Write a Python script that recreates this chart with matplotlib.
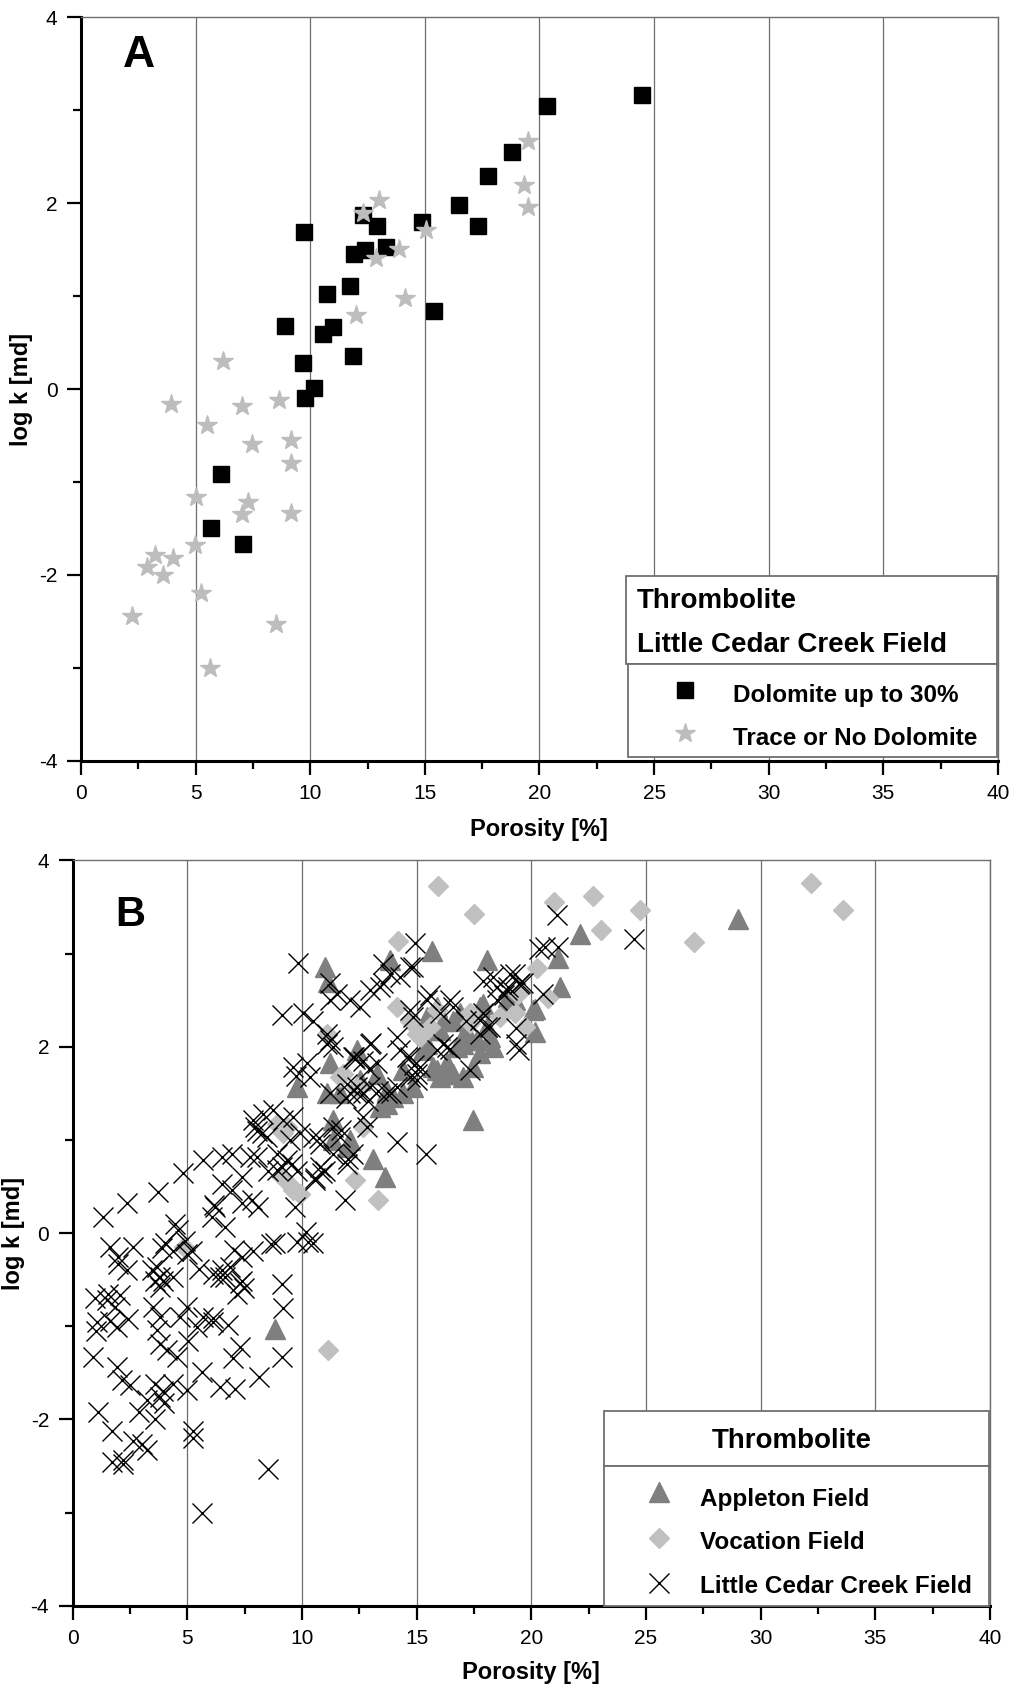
import matplotlib.pyplot as plt
from matplotlib.patches import Rectangle
from matplotlib.ticker import MultipleLocator

plt.rcParams['font.family'] = ['Liberation Sans', 'DejaVu Sans']
plt.rcParams['axes.unicode_minus'] = False

# --- panel A: Little Cedar Creek thrombolite ---
dolo_por = [24.48, 20.34, 18.80, 17.75, 16.47, 17.33, 14.87, 15.39, 9.74, 12.31,
            12.92, 13.30, 11.90, 12.39, 11.72, 10.73, 8.91, 10.99, 10.57, 11.86,
            9.70, 10.16, 9.78, 6.12, 5.65, 7.08]
dolo_logk = [3.16, 3.05, 2.55, 2.29, 1.98, 1.75, 1.80, 0.845, 1.69, 1.87,
             1.76, 1.53, 1.45, 1.50, 1.11, 1.02, 0.68, 0.67, 0.595, 0.358,
             0.28, 0.01, -0.10, -0.91, -1.49, -1.67]

trace_por = [19.48, 19.32, 19.48, 13.00, 12.28, 15.03, 13.88, 12.87, 14.12, 11.99,
             6.18, 3.91, 7.04, 8.63, 5.51, 7.47, 9.14, 9.16, 5.02, 7.28,
             7.01, 9.14, 4.99, 3.23, 4.00, 2.88, 3.59, 5.25, 2.21, 8.52, 5.64]
trace_logk = [2.67, 2.20, 1.96, 2.04, 1.89, 1.71, 1.505, 1.415, 0.98, 0.80,
              0.30, -0.16, -0.18, -0.12, -0.39, -0.59, -0.55, -0.80, -1.16, -1.22,
              -1.34, -1.33, -1.68, -1.79, -1.82, -1.92, -2.00, -2.20, -2.44, -2.53, -3.00]

# --- panel B: thrombolite from three fields ---
appleton_por = [29.01, 22.11, 21.14, 21.24, 20.15, 20.15, 19.28, 18.98, 15.65, 13.83,
                18.05, 20.08, 15.87, 16.59, 17.90, 16.01, 17.17, 17.61, 18.19, 18.92,
                15.43, 11.00, 11.14, 17.46, 13.10, 13.61, 9.76, 11.22, 11.07, 11.94,
                11.36, 12.38, 13.69, 14.85, 16.01, 16.59, 17.03, 17.76, 17.17, 16.88,
                16.16, 15.72, 18.05, 18.34, 17.76, 13.98, 11.65, 11.36, 8.82, 15.72,
                16.30, 17.46, 15.29, 16.74, 14.41, 12.52, 13.25, 13.69, 14.41, 15.87,
                16.45, 12.09, 13.40, 15.43, 17.03]
appleton_logk = [3.37, 3.21, 2.95, 2.64, 2.41, 2.16, 2.50, 2.53, 3.03, 2.93,
                 2.93, 2.39, 2.43, 2.28, 2.46, 2.18, 2.18, 2.07, 2.10, 2.46,
                 2.03, 2.86, 2.69, 1.21, 0.80, 0.60, 1.57, 1.82, 1.50, 0.92,
                 1.21, 1.96, 1.39, 1.57, 1.67, 1.71, 1.67, 1.93, 2.07, 2.36,
                 2.28, 2.18, 2.21, 2.00, 2.43, 1.46, 1.50, 1.00, -1.03, 1.78,
                 1.82, 1.78, 1.96, 2.00, 1.75, 1.64, 1.71, 1.53, 1.50, 1.75,
                 1.71, 1.00, 1.35, 2.32, 2.03]

vocation_por = [20.99, 22.69, 24.73, 23.03, 27.10, 32.21, 33.61, 20.23, 19.43, 20.73,
                19.28, 19.72, 15.94, 17.51, 14.19, 14.12, 17.32, 18.63, 15.14, 15.58,
                11.65, 11.07, 12.38, 12.67, 8.89, 9.18, 9.62, 9.91, 12.31, 13.32,
                15.00, 14.70, 17.32, 4.85, 9.55, 9.11, 11.14, 11.80, 15.87, 9.33]
vocation_logk = [3.55, 3.62, 3.47, 3.25, 3.12, 3.76, 3.47, 2.84, 2.57, 2.52,
                 2.36, 2.21, 3.72, 3.42, 3.14, 2.43, 2.25, 2.32, 2.10, 2.21,
                 1.67, 2.14, 1.57, 1.14, 1.17, 1.07, 0.46, 0.42, 0.57, 0.35,
                 2.14, 2.28, 2.36, -0.15, 0.49, 0.60, -1.26, 1.71, 2.39, 1.14]

# Little Cedar Creek in B = the panel A samples plus these
lcc_extra_por = [8.13, 6.42, 6.78, 4.39, 3.95, 3.81, 3.59, 2.64, 3.23, 3.01,
                 5.26, 1.70, 2.20, 1.09, 1.70, 0.90, 1.92, 2.14, 2.50, 1.05,
                 1.63, 1.92, 2.42, 1.48, 1.84, 2.06, 3.51, 3.81, 3.66, 3.81,
                 4.10, 4.53, 4.68, 4.97, 5.41, 5.69, 6.13, 4.39, 3.95, 3.66,
                 2.35, 1.99, 1.63, 2.64, 4.39, 4.97, 6.13, 6.42, 6.86, 7.29,
                 7.15, 7.87, 10.49, 0.95, 1.00,
                 1.33, 2.35, 3.73, 4.82, 5.69, 6.49, 6.93, 7.73, 7.95, 8.24,
                 6.49, 6.93, 7.37, 7.80, 8.09, 6.20, 6.06, 6.64, 7.37, 8.53,
                 9.11, 9.55, 10.85, 10.56, 10.27, 8.82, 7.37, 6.49, 6.64, 7.37,
                 4.90, 4.60, 4.46, 4.02, 5.19, 3.81, 3.81, 1.99, 1.55, 3.44, 3.59,
                 8.02, 7.87, 8.31, 8.74, 8.02, 8.46, 9.18, 9.62, 9.47, 8.89,
                 9.33, 9.76, 9.91, 10.49, 10.78, 11.36, 11.65, 11.36, 10.78, 11.94,
                 12.23, 12.82, 12.67, 9.62, 10.20, 10.34, 10.49, 10.05, 9.11, 9.81,
                 11.22, 11.36, 11.07, 11.22, 11.51, 11.22, 12.09, 12.52, 12.96, 13.40,
                 13.54, 13.83, 14.27, 14.85, 14.92, 12.23, 12.67, 13.25, 11.94, 11.22,
                 12.09, 12.96, 13.69, 14.12, 14.27, 14.56, 15.14, 14.70, 15.00, 14.85,
                 15.43, 16.01, 16.30, 16.59, 17.17, 17.90, 18.19, 18.48,
                 21.10, 20.59, 21.17, 19.28, 19.50, 18.99, 20.51,
                 14.70, 13.54, 15.58, 16.45, 18.33, 19.06, 19.64, 18.48, 18.92, 17.90,
                 18.05, 17.76, 19.35, 16.16, 12.96, 14.12,
                 11.07, 12.38, 12.67, 14.70, 14.70, 15.87]
lcc_extra_logk = [-1.55, -1.65, -0.99, -1.62, -1.69, -1.76, -1.62, -2.23, -2.33, -2.26,
                  -2.12, -2.46, -2.48, -1.92, -2.12, -1.33, -1.44, -1.58, -1.63, -0.96,
                  -0.94, -1.01, -0.92, -0.72, -0.79, -0.67, -0.79, -0.90, -1.04, -1.19,
                  -1.26, -1.33, -0.90, -0.79, -1.01, -0.90, -0.96, -0.47, -0.51, -0.36,
                  -0.40, -0.33, -0.15, -0.15, -0.19, -0.22, -0.44, -0.47, -0.36, -0.54,
                  -0.65, -0.19, -0.11, -0.70, -1.05,
                  0.17, 0.32, 0.44, 0.64, 0.78, 0.82, 0.85, 0.82, 1.14, 1.07,
                  0.53, 0.46, 0.32, 0.35, 0.28, 0.28, 0.17, 0.06, 0.60, 0.67,
                  0.71, 0.74, 0.64, 0.57, -0.10, -0.11, -0.26, -0.40, -0.47, -0.51,
                  -0.08, 0.03, 0.10, -0.11, -0.19, -0.47, -0.58, -0.26, -0.65, -0.40, -0.51,
                  0.82, 1.21, 1.28, 1.32, 1.10, 1.03, 1.21, 1.25, 1.00, 0.85,
                  0.78, 0.67, 1.07, 1.03, 0.96, 1.14, 1.03, 0.85, 0.71, 0.74,
                  0.85, 1.14, 1.25, 1.78, 1.82, 1.67, 2.28, 2.36, 2.34, 2.90,
                  2.07, 2.00, 2.14, 2.68, 2.57, 2.50, 2.50, 2.43, 2.61, 2.64,
                  2.89, 2.78, 2.75, 2.86, 3.11, 1.89, 1.85, 1.82, 1.60, 1.50,
                  1.50, 1.57, 1.50, 1.57, 1.96, 1.89, 1.78, 1.67, 1.64, 2.32,
                  2.50, 2.36, 2.00, 2.43, 2.28, 2.71, 2.21, 2.50,
                  3.41, 3.07, 3.07, 2.78, 2.68, 2.64, 2.57,
                  2.86, 2.68, 2.55, 2.50, 2.75, 2.78, 2.68, 2.64, 2.61, 2.36,
                  2.21, 2.14, 2.03, 2.03, 2.03, 2.10,
                  2.03, 1.57, 1.50, 1.89, 2.39, 1.96]

lcc_por = dolo_por + trace_por + lcc_extra_por
lcc_logk = dolo_logk + trace_logk + lcc_extra_logk

GRID = "#6e6e6e"
TRI_C = "#7f7f7f"
LIGHT_C = "#c0c0c0"


def style_axes(ax):
    ax.set_xlim(0, 40)
    ax.set_ylim(-4, 4)
    ax.xaxis.set_major_locator(MultipleLocator(5))
    ax.xaxis.set_minor_locator(MultipleLocator(2.5))
    ax.yaxis.set_major_locator(MultipleLocator(2))
    ax.yaxis.set_minor_locator(MultipleLocator(1))
    for side in ("left", "bottom"):
        ax.spines[side].set_linewidth(2.2)
        ax.spines[side].set_color("black")
    for side in ("top", "right"):
        ax.spines[side].set_linewidth(1.0)
        ax.spines[side].set_color(GRID)
    ax.tick_params(which="major", direction="out", length=10, width=1.6,
                   labelsize=15, pad=7, top=False, right=False)
    ax.tick_params(which="minor", direction="out", length=5.5, width=1.6,
                   top=False, right=False)
    ax.grid(axis="x", color=GRID, lw=0.9, zorder=0)
    ax.set_axisbelow(True)
    ax.set_xlabel("Porosity [%]", fontsize=17, fontweight="bold")
    ax.set_ylabel("log k [md]", fontsize=17, fontweight="bold")


def box(ax, x0, y0, x1, y1):
    ax.add_patch(Rectangle((x0, y0), x1 - x0, y1 - y0, transform=ax.transAxes,
                           facecolor="white", edgecolor=GRID, lw=1.3,
                           zorder=5, clip_on=False))


def key(ax, x, y, **kw):
    ax.plot([x], [y], ls="none", transform=ax.transAxes, clip_on=False,
            zorder=6, **kw)


fig = plt.figure(figsize=(10.1, 16.89), dpi=100)

# ---------- A ----------
axA = fig.add_axes([0.0802, 0.5496, 0.9079, 0.4401])
style_axes(axA)
axA.plot(dolo_por, dolo_logk, ls="none", marker="s", ms=11.5, color="black", zorder=3)
axA.plot(trace_por, trace_logk, ls="none", marker="*", ms=14.5, color="#bdbdbd",
         mec="#bdbdbd", zorder=4)
axA.xaxis.set_label_coords(0.4995, -0.077)
axA.yaxis.set_label_coords(-0.052, 0.5)
axA.text(0.046, 0.976, "A", transform=axA.transAxes, fontsize=32,
         fontweight="bold", va="top", ha="left")

box(axA, 0.594, 0.130, 0.9986, 0.2489)
box(axA, 0.5962, 0.0054, 0.9986, 0.130)
axA.text(0.606, 0.205, "Thrombolite", transform=axA.transAxes, fontsize=20,
         fontweight="bold", va="baseline", zorder=7)
axA.text(0.606, 0.1466, "Little Cedar Creek Field", transform=axA.transAxes,
         fontsize=20, fontweight="bold", va="baseline", zorder=7)
key(axA, 0.6587, 0.0951, marker="s", ms=11.5, color="black")
key(axA, 0.6587, 0.0369, marker="*", ms=14.5, color="#bdbdbd")
axA.text(0.7107, 0.0794, "Dolomite up to 30%", transform=axA.transAxes,
         fontsize=17.5, fontweight="bold", va="baseline", zorder=7)
axA.text(0.7107, 0.0211, "Trace or No Dolomite", transform=axA.transAxes,
         fontsize=17.5, fontweight="bold", va="baseline", zorder=7)

# ---------- B ----------
axB = fig.add_axes([0.0720, 0.0493, 0.9082, 0.4413])
style_axes(axB)
axB.plot(appleton_por, appleton_logk, ls="none", marker="^", ms=14, color=TRI_C,
         zorder=2)
axB.plot(vocation_por, vocation_logk, ls="none", marker="D", ms=10, color=LIGHT_C,
         zorder=3)
axB.plot(lcc_por, lcc_logk, ls="none", marker="x", ms=14.5, mew=1.0, color="black",
         zorder=4)
axB.xaxis.set_label_coords(0.5, -0.074)
axB.yaxis.set_label_coords(-0.052, 0.5)
axB.text(0.046, 0.953, "B", transform=axB.transAxes, fontsize=30,
         fontweight="bold", va="top", ha="left")

box(axB, 0.5795, 0.1878, 0.999, 0.2612)
box(axB, 0.5795, 0.0, 0.999, 0.1878)
axB.text(0.7838, 0.2112, "Thrombolite", transform=axB.transAxes, fontsize=20,
         fontweight="bold", va="baseline", ha="center", zorder=7)
key(axB, 0.6395, 0.153, marker="^", ms=14, color=TRI_C)
key(axB, 0.6395, 0.0912, marker="D", ms=10, color=LIGHT_C)
key(axB, 0.6395, 0.0309, marker="x", ms=14.5, mew=1.0, color="black")
for y, lab in [(0.1338, "Appleton Field"), (0.0757, "Vocation Field"),
               (0.0175, "Little Cedar Creek Field")]:
    axB.text(0.6839, y, lab, transform=axB.transAxes, fontsize=17.5,
             fontweight="bold", va="baseline", zorder=7)

fig.savefig("out.png", dpi=100)
